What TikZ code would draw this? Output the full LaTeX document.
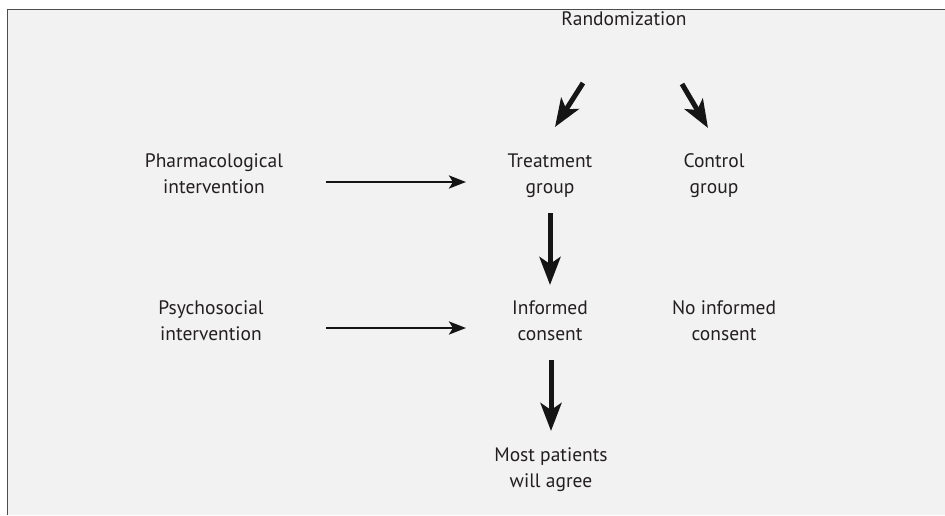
\documentclass[tikz,border=0pt]{standalone}
\usepackage{fontspec}
\setmainfont{PT Sans}
\usetikzlibrary{arrows.meta,calc}
\definecolor{bg}{HTML}{F2F2F2}
\definecolor{framec}{HTML}{4D4D4D}
\definecolor{ink}{HTML}{231F20}
\definecolor{arr}{HTML}{151515}
\begin{document}
\begin{tikzpicture}[x=1pt,y=-1pt,
  lbl/.style={font=\fontsize{19.5}{26}\selectfont, text=ink, align=center, inner sep=0pt, anchor=base},
  bigarrow/.style={draw=arr, line width=5pt, -{Stealth[length=28pt,width=21pt,inset=7pt]}},
  thinarrow/.style={draw=arr, line width=2.8pt, -{Stealth[length=17pt,width=13pt,inset=4pt]}}]
\useasboundingbox (0,0) rectangle (945,515);
\fill[white] (0,0) rectangle (945,515);
\fill[bg] (7.5,9.5) rectangle (945,515);
\draw[framec, line width=1.4pt] (7.5,515) -- (7.5,9.5) -- (945,9.5);

\node[lbl] (rand) at (624,25) {Randomization};
\node[lbl] (ph) at (214,193) {Pharmacological\\intervention};
\node[lbl] (tr) at (550,193) {Treatment\\group};
\node[lbl] (ctl) at (714,193) {Control\\group};
\node[lbl] (ps) at (211,340) {Psychosocial\\intervention};
\node[lbl] (inf) at (550,340) {Informed\\consent};
\node[lbl] (noinf) at (724,340) {No informed\\consent};
\node[lbl] (most) at (551,487) {Most patients\\will agree};

\draw[bigarrow] ($(rand.base)+(-41,58)$) -- ($(tr.base)+(5,-66)$);
\draw[bigarrow] ($(rand.base)+(58,59)$) -- ($(ctl.base)+(-6,-65)$);
\draw[thinarrow] ($(ph.base)+(112,-11)$) -- ($(tr.base)+(-84,-11)$);
\draw[bigarrow] ($(tr.base)+(0,20)$) -- ($(inf.base)+(0,-55)$);
\draw[thinarrow] ($(ps.base)+(115,-12)$) -- ($(inf.base)+(-84,-12)$);
\draw[bigarrow] ($(inf.base)+(1,20)$) -- ($(most.base)+(0,-56)$);
\end{tikzpicture}
\end{document}
